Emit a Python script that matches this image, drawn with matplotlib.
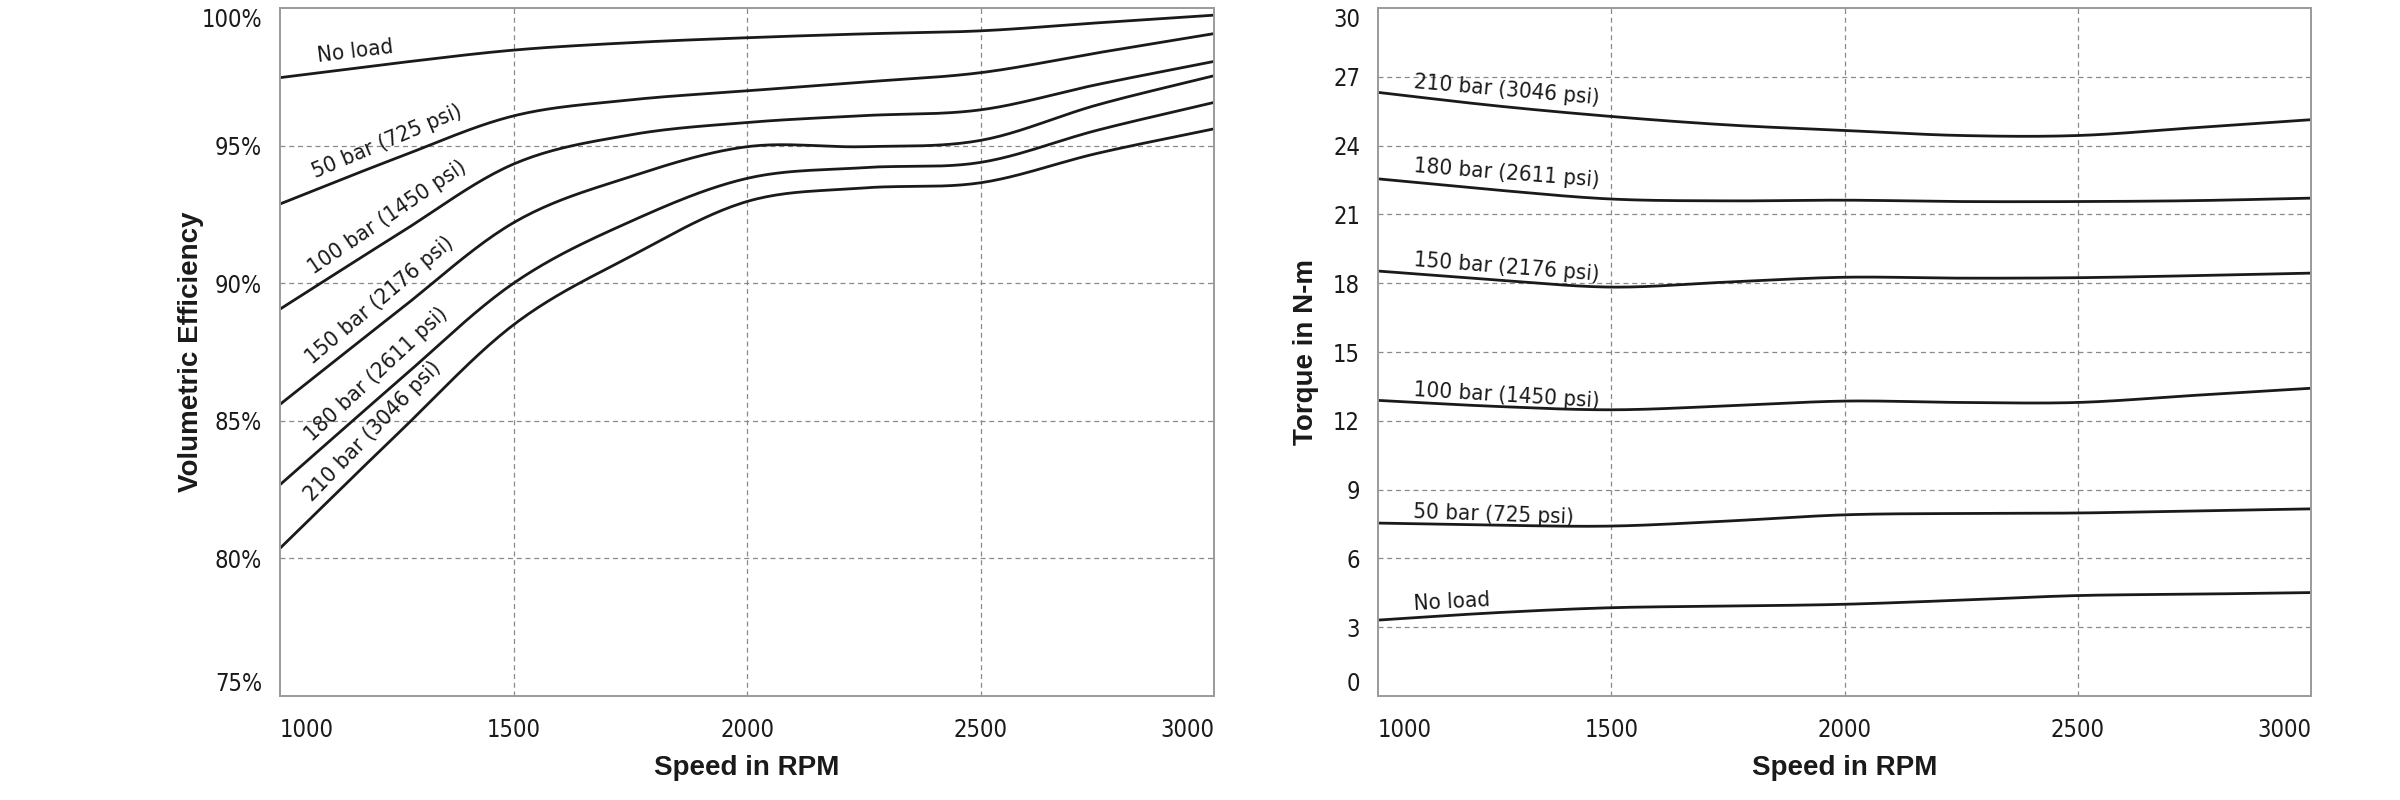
import numpy as np
import matplotlib
matplotlib.use("Agg")
import matplotlib.pyplot as plt
import matplotlib.transforms as mtransforms
from matplotlib import font_manager

# speed axis shared by both charts
rpm = [1000, 1250, 1500, 1750, 2000, 2250, 2500, 2750, 3000]

load_labels = ["No load", "50 bar (725 psi)", "100 bar (1450 psi)",
               "150 bar (2176 psi)", "180 bar (2611 psi)", "210 bar (3046 psi)"]

# volumetric efficiency, %
eff_no_load = [97.47, 98.00, 98.47, 98.74, 98.92, 99.06, 99.17, 99.46, 99.74]
eff_50 = [92.88, 94.55, 96.08, 96.66, 96.99, 97.31, 97.65, 98.37, 99.07]
eff_100 = [89.06, 91.75, 94.33, 95.39, 95.84, 96.09, 96.30, 97.22, 98.06]
eff_150 = [85.60, 88.95, 92.20, 93.87, 94.96, 94.96, 95.19, 96.48, 97.54]
eff_180 = [82.68, 86.40, 90.00, 92.24, 93.81, 94.20, 94.39, 95.56, 96.57]
eff_210 = [80.37, 84.50, 88.49, 90.97, 92.97, 93.46, 93.65, 94.72, 95.61]

# torque, N-m
tq_no_load = [3.31, 3.63, 3.85, 3.92, 4.00, 4.18, 4.38, 4.44, 4.51]
tq_50 = [7.54, 7.45, 7.41, 7.63, 7.90, 7.96, 7.98, 8.07, 8.16]
tq_100 = [12.89, 12.63, 12.48, 12.65, 12.86, 12.80, 12.80, 13.11, 13.42]
tq_150 = [18.53, 18.15, 17.83, 18.05, 18.26, 18.22, 18.24, 18.33, 18.44]
tq_180 = [22.55, 22.07, 21.67, 21.59, 21.62, 21.56, 21.56, 21.60, 21.71]
tq_210 = [26.32, 25.74, 25.27, 24.90, 24.66, 24.44, 24.44, 24.78, 25.13]

eff_ticks = [75, 80, 85, 90, 95, 100]
tq_ticks = [0, 3, 6, 9, 12, 15, 18, 21, 24, 27, 30]
rpm_ticks = [1000, 1500, 2000, 2500, 3000]

INK = "#1a1a1a"

# look for a condensed face, the chart uses a narrow grotesque
NARROW = ["Liberation Sans", "DejaVu Sans"]
STRETCH = "normal"
for f in font_manager.fontManager.ttflist:
    if "Narrow" in f.name or "Condensed" in f.name:
        NARROW = [f.name, "DejaVu Sans"]
        break
    if f.stretch in ("condensed", "semi-condensed", 700, 600) and f.name in ("DejaVu Sans", "Roboto", "Open Sans", "Noto Sans", "Inter"):
        NARROW = [f.name, "DejaVu Sans"]
        STRETCH = f.stretch
        break
BOLD = ["Liberation Sans", "DejaVu Sans"]
TICKS = dict(family=NARROW, fontstretch=STRETCH, fontsize=17, color=INK)
NOTES = dict(family=NARROW, fontstretch=STRETCH, fontsize=16, color=INK)


def catmull(x, y, n=24):
    # smooth curve through the read points (drawing only)
    x = np.asarray(x, float)
    y = np.asarray(y, float)
    xs, ys = [], []
    t = np.linspace(0, 1, n, endpoint=False)
    for i in range(len(x) - 1):
        p1, p2 = y[i], y[i + 1]
        p0 = y[i - 1] if i > 0 else 2 * p1 - p2
        p3 = y[i + 2] if i + 2 < len(y) else 2 * p2 - p1
        yy = 0.5 * (2 * p1 + (-p0 + p2) * t + (2 * p0 - 5 * p1 + 4 * p2 - p3) * t ** 2
                    + (-p0 + 3 * p1 - 3 * p2 + p3) * t ** 3)
        xs.append(x[i] + (x[i + 1] - x[i]) * t)
        ys.append(yy)
    xs.append([x[-1]])
    ys.append([y[-1]])
    return np.concatenate(xs), np.concatenate(ys)


def style_axes(ax, yticks, ylabels, ylim):
    ax.set_xlim(1000, 3000)
    ax.set_ylim(*ylim)
    ax.set_xticks(rpm_ticks)
    ax.set_yticks(yticks)
    ax.set_xticklabels([str(v) for v in rpm_ticks], **TICKS)
    ax.set_yticklabels(ylabels, **TICKS)
    xl = ax.get_xticklabels()
    xl[0].set_ha("left")
    xl[-1].set_ha("right")
    yl = ax.get_yticklabels()
    yl[0].set_va("bottom")
    yl[-1].set_va("top")
    ax.tick_params(length=0, pad=13)
    ax.tick_params(axis="x", pad=16)
    for s in ax.spines.values():
        s.set_color("#9a9a9a")
        s.set_linewidth(1.4)
    for v in rpm_ticks[1:-1]:
        ax.axvline(v, color="#8a8a8a", lw=0.9, ls=(0, (4, 3)), zorder=0)
    for v in yticks[1:-1]:
        ax.axhline(v, color="#8a8a8a", lw=0.9, ls=(0, (4, 3)), zorder=0)
    ax.set_xlabel("Speed in RPM", family=BOLD, fontweight="bold", fontsize=20, color=INK)
    ax.xaxis.label.set_va("center")
    ax.xaxis.set_label_coords(0.5, -0.105)


fig = plt.figure(figsize=(24, 8), dpi=100)
ax1 = fig.add_axes([0.1167, 0.13, 0.3892, 0.86])
ax2 = fig.add_axes([0.5742, 0.13, 0.3888, 0.86])

# left: volumetric efficiency
style_axes(ax1, eff_ticks, ["%d%%" % v for v in eff_ticks], (75, 100))
ax1.set_ylabel("Volumetric Efficiency", family=BOLD, fontweight="bold", fontsize=20, color=INK)
ax1.yaxis.label.set_va("center")
ax1.yaxis.set_label_coords(-0.095, 0.5)

eff_series = [eff_no_load, eff_50, eff_100, eff_150, eff_180, eff_210]
for name, vals in zip(load_labels, eff_series):
    xs, ys = catmull(rpm, vals)
    ax1.plot(xs, ys, color=INK, lw=2.0, solid_capstyle="butt")
    # label sits just above the curve, parallel to it
    x0, x1 = 1085, 1400
    p0 = ax1.transData.transform((x0, np.interp(x0, xs, ys)))
    p1 = ax1.transData.transform((x1, np.interp(x1, xs, ys)))
    ang = np.degrees(np.arctan2(p1[1] - p0[1], p1[0] - p0[0]))
    if name != "No load":
        ang += 1.5
    d = 5
    tr = mtransforms.offset_copy(ax1.transData, fig=fig,
                                 x=-np.sin(np.radians(ang)) * d,
                                 y=np.cos(np.radians(ang)) * d, units="points")
    ax1.text(x0, np.interp(x0, xs, ys), name, transform=tr, rotation=ang,
             rotation_mode="anchor", ha="left", va="bottom", **NOTES)

# right: torque
style_axes(ax2, tq_ticks, [str(v) for v in tq_ticks], (0, 30))
ax2.set_ylabel("Torque in N-m", family=BOLD, fontweight="bold", fontsize=20, color=INK)
ax2.yaxis.label.set_va("center")
ax2.yaxis.set_label_coords(-0.077, 0.5)

tq_series = [tq_no_load, tq_50, tq_100, tq_150, tq_180, tq_210]
tq_label_y = [3.77, 7.77, 13.09, 18.76, 22.83, 26.5]
tq_label_rot = [3, -2, -3.5, -4.5, -4.5, -5]
for name, vals, ly, rot in zip(load_labels, tq_series, tq_label_y, tq_label_rot):
    xs, ys = catmull(rpm, vals)
    ax2.plot(xs, ys, color=INK, lw=2.0, solid_capstyle="butt")
    ax2.text(1076, ly, name, rotation=rot, rotation_mode="anchor",
             ha="left", va="baseline", **NOTES)

fig.savefig("out.png", dpi=100, facecolor="white")
